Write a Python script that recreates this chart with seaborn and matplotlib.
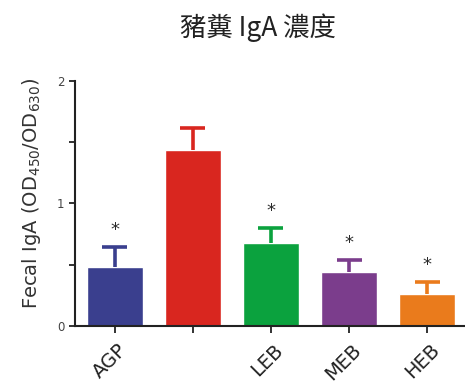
import numpy as np
import matplotlib
matplotlib.use("Agg")
import matplotlib.pyplot as plt
import matplotlib.transforms as mtransforms
import seaborn as sns
import pandas as pd

# datos
grupos = ["AGP", "CTL", "LEB", "MEB", "HEB"]
etiquetas = ["AGP", "", "LEB", "MEB", "HEB"]
media = [0.48, 1.43, 0.68, 0.44, 0.26]
error = [0.16, 0.18, 0.12, 0.10, 0.10]
signif = [True, False, True, True, True]
colores = ["#3a3f8e", "#d9261f", "#0ba23e", "#7b3d8c", "#ea7b1c"]

sns.set_style("ticks")
plt.rcParams["font.family"] = ["DejaVu Sans", "Noto Sans CJK TC"]

df = pd.DataFrame({"grupo": grupos, "valor": media})

fig = plt.figure(figsize=(4.65, 3.89), dpi=100)
ax = fig.add_axes([0.161, 0.162, 0.85, 0.631])

sns.barplot(data=df, x="grupo", y="valor", hue="grupo", palette=colores,
            width=0.72, saturation=1, legend=False, ax=ax, errorbar=None)

# solo la parte de arriba del error
x = np.arange(len(grupos))
arriba = np.array(media) + np.array(error)
ax.vlines(x, media, arriba, colors=colores, linewidth=2.6)
ax.hlines(arriba, x - 0.16, x + 0.16, colors=colores, linewidth=2.6)
for i in range(len(grupos)):
    if signif[i]:
        ax.text(x[i], arriba[i] + 0.14, "*", ha="center", va="center",
                fontsize=13, color="#2a2a2a")

ax.set_xlim(-0.51, 4.55)
ax.set_ylim(0, 2)
ax.set_yticks([0, 1, 2])
ax.set_yticks([0.5, 1.5], minor=True)
ax.set_xticks(x)
ax.tick_params(axis="y", labelsize=8.5, colors="#444444", width=1.3, length=4)
ax.tick_params(axis="y", which="minor", width=1.3, length=4, color="#222222")
ax.tick_params(axis="x", width=1.3, length=5, color="#222222", pad=8)
ax.tick_params(axis="y", color="#222222")
ax.set_xticklabels(etiquetas, rotation=45, ha="right", va="center",
                   rotation_mode="anchor", fontsize=14, color="#222222")
# mover las etiquetas un poco a la derecha (despues de tick_params)
desplaza = mtransforms.ScaledTranslation(9 / 100, -3 / 100, fig.dpi_scale_trans)
for t in ax.get_xticklabels():
    t.set_transform(t.get_transform() + desplaza)
for s in ["left", "bottom"]:
    ax.spines[s].set_linewidth(1.5)
    ax.spines[s].set_color("#222222")
sns.despine(ax=ax)

ax.set_xlabel("")
ax.set_ylabel("Fecal IgA (OD$_{450}$/OD$_{630}$)", fontsize=14, color="#333333")
ax.yaxis.set_label_coords(-0.08, 0.54)

fig.text(0.555, 0.93, "豬糞 IgA 濃度", ha="center", va="center", fontsize=19,
         family=["Noto Sans CJK TC", "DejaVu Sans"], color="#222222")

fig.savefig("out.png", dpi=100)
